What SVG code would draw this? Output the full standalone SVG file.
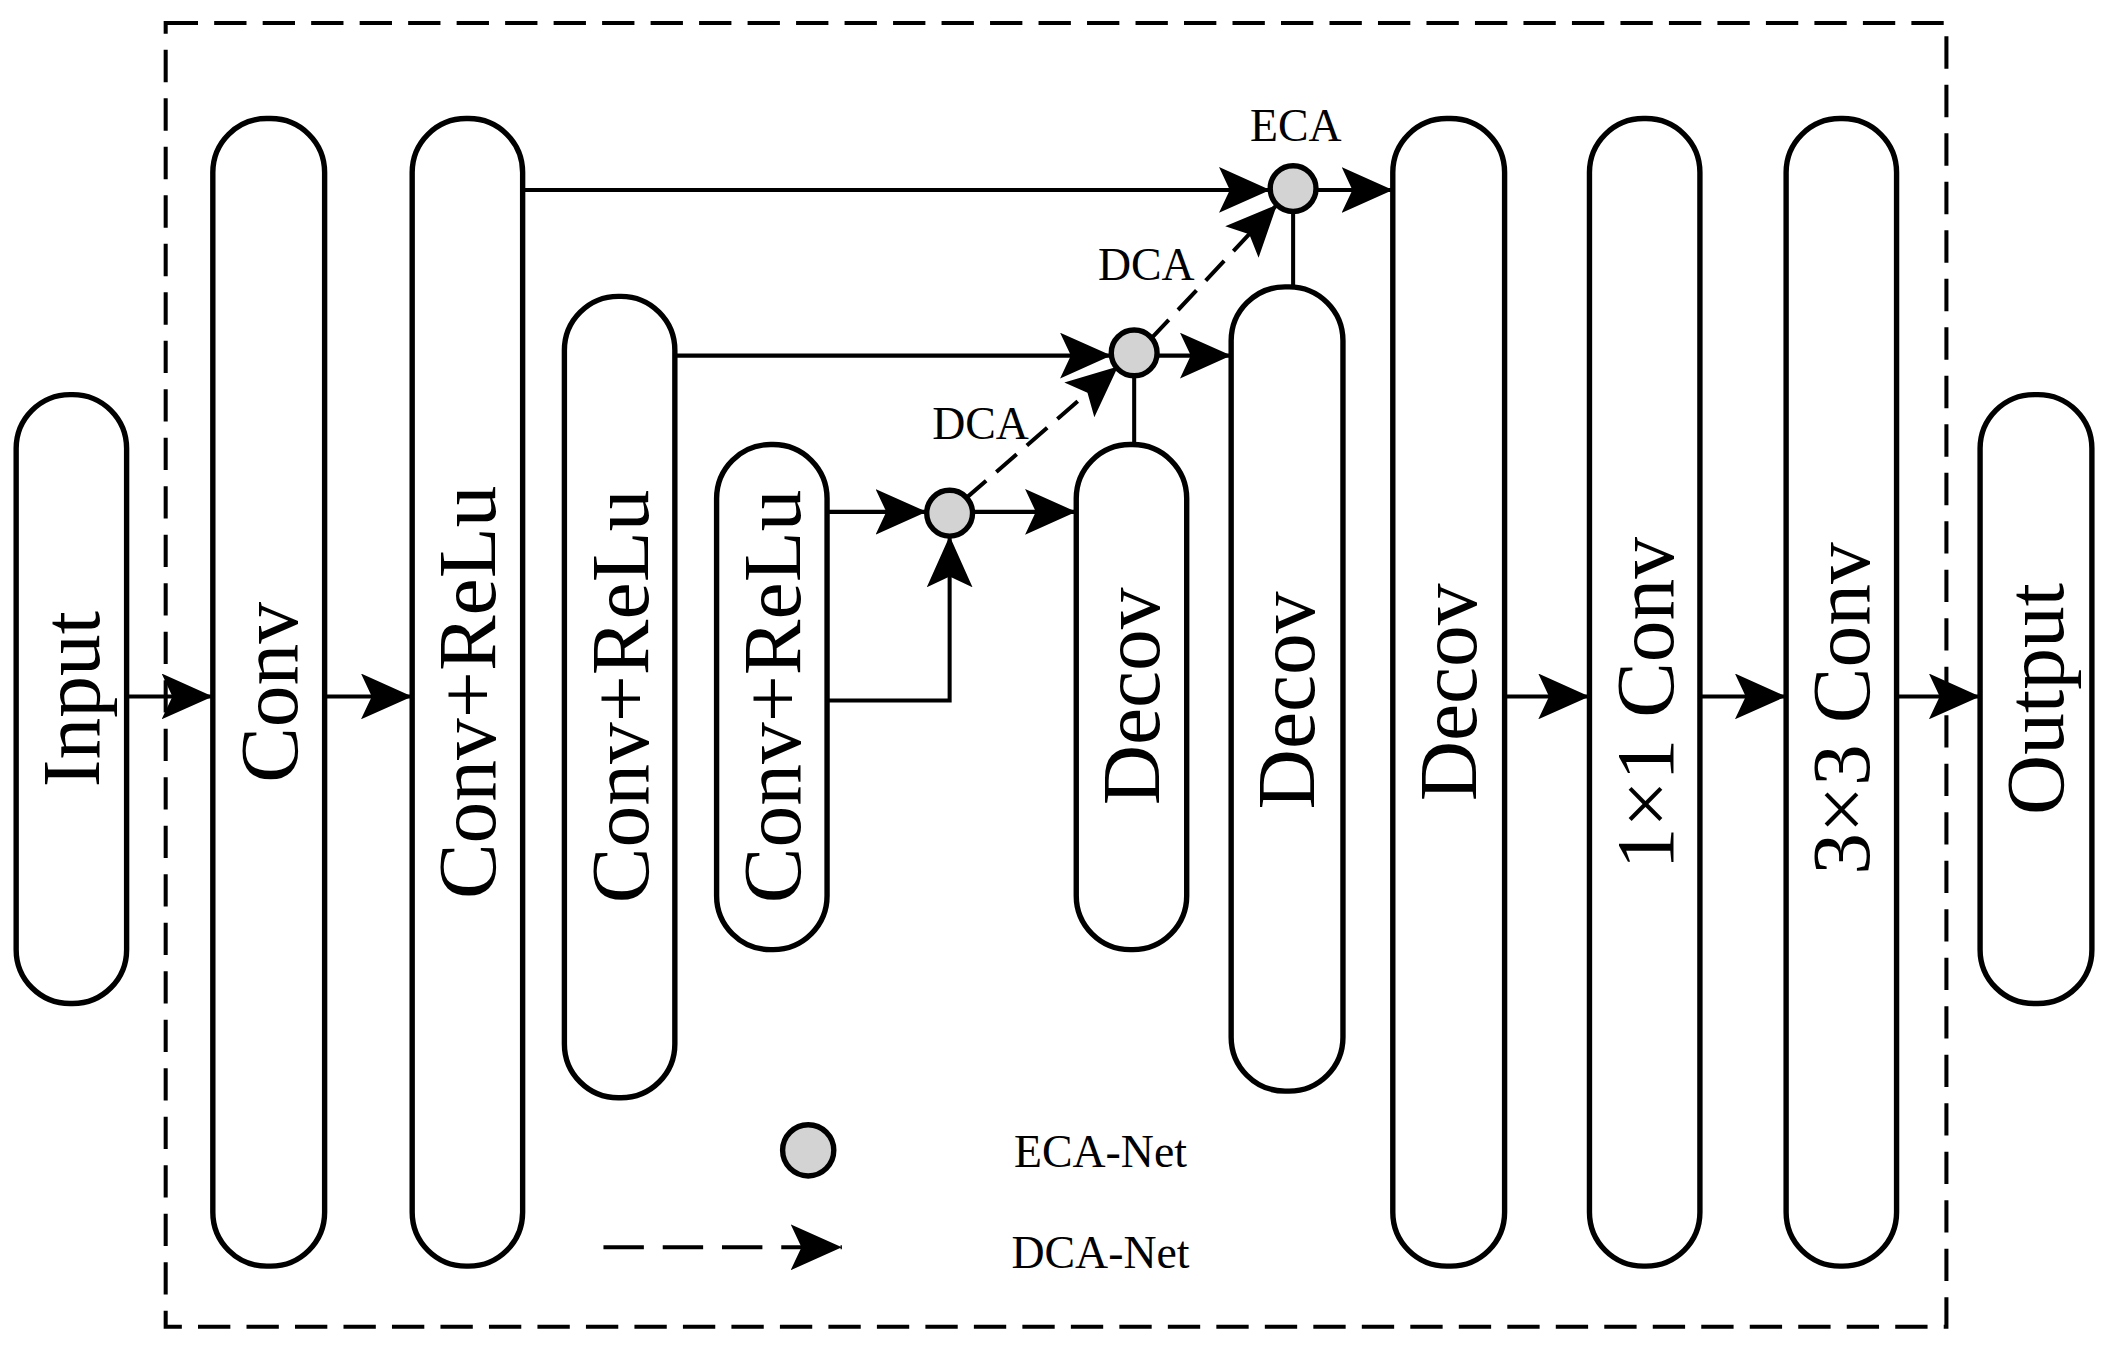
<svg xmlns="http://www.w3.org/2000/svg" width="2112" height="1358" viewBox="0 0 2112 1358">
<style>
.b{fill:#fff;stroke:#000;stroke-width:4}
.t{font-family:"Liberation Serif",serif;font-size:62px;text-anchor:middle;dominant-baseline:central}
.s{font-family:"Liberation Serif",serif;font-size:34px;text-anchor:middle}
.l{fill:none;stroke:#000;stroke-width:3}
.c{fill:#d3d3d3;stroke:#000;stroke-width:4}
</style>
<defs><marker id="a" markerUnits="userSpaceOnUse" markerWidth="40" markerHeight="34" refX="38" refY="17" orient="auto"><path d="M0,0 L38,17 L0,34 L8,17 Z" fill="#000"/></marker></defs>
<rect width="2112" height="1358" fill="#fff"/>
<g transform="scale(1.347)">
<rect x="123" y="17" width="1322" height="968" fill="none" stroke="#000" stroke-width="3" stroke-dasharray="24,12"/>
<g id="input"><rect class="b" x="12" y="293" width="82" height="452" rx="40"/><text class="t" transform="translate(53,519) rotate(-90)">Input</text></g>
<g id="conv"><rect class="b" x="158" y="88" width="83" height="852" rx="40"/><text class="t" transform="translate(200,514) rotate(-90)">Conv</text></g>
<g id="cr1"><rect class="b" x="306" y="88" width="82" height="852" rx="40"/><text class="t" transform="translate(347,514) rotate(-90)">Conv+ReLu</text></g>
<g id="cr2"><rect class="b" x="419" y="220" width="82" height="595" rx="40"/><text class="t" transform="translate(460,517) rotate(-90)">Conv+ReLu</text></g>
<g id="cr3"><rect class="b" x="532" y="330" width="82" height="375" rx="40"/><text class="t" transform="translate(573,517) rotate(-90)">Conv+ReLu</text></g>
<g id="dec1"><rect class="b" x="799" y="330" width="82" height="375" rx="40"/><text class="t" transform="translate(840,517) rotate(-90)">Decov</text></g>
<g id="dec2"><rect class="b" x="914" y="213" width="83" height="597" rx="40"/><text class="t" transform="translate(955,520) rotate(-90)">Decov</text></g>
<g id="dec3"><rect class="b" x="1034" y="88" width="83" height="852" rx="40"/><text class="t" transform="translate(1075,514) rotate(-90)">Decov</text></g>
<g id="c11"><rect class="b" x="1180" y="88" width="82" height="852" rx="40"/><text class="t" transform="translate(1221,522) rotate(-90)">1×1 Conv</text></g>
<g id="c33"><rect class="b" x="1326" y="88" width="82" height="852" rx="40"/><text class="t" transform="translate(1367,526) rotate(-90)">3×3 Conv</text></g>
<g id="output"><rect class="b" x="1470" y="293" width="83" height="452" rx="40"/><text class="t" transform="translate(1511,519) rotate(-90)">Output</text></g>
<g id="connectors">
<path class="l" marker-end="url(#a)" d="M94,517H158"/>
<path class="l" marker-end="url(#a)" d="M241,517H306"/>
<path class="l" marker-end="url(#a)" d="M1117,517H1180"/>
<path class="l" marker-end="url(#a)" d="M1262,517H1326"/>
<path class="l" marker-end="url(#a)" d="M1408,517H1470"/>
<path class="l" marker-end="url(#a)" d="M388,141H943"/>
<path class="l" marker-end="url(#a)" d="M501,264H825"/>
<path class="l" marker-end="url(#a)" d="M614,380H688"/>
<path class="l" marker-end="url(#a)" d="M614,520H705V398"/>
<path class="l" marker-end="url(#a)" d="M722,380H799"/>
<path class="l" marker-end="url(#a)" d="M859,264H914"/>
<path class="l" marker-end="url(#a)" d="M977,141H1034"/>
<path class="l" d="M842,330V279M960,213V157"/>
<path class="l" stroke-width="3.5" stroke-dasharray="20,10" marker-end="url(#a)" d="M717,370L830,272"/>
<path class="l" stroke-width="3.5" stroke-dasharray="20,10" marker-end="url(#a)" d="M854,252L948,152"/>
<path class="l" stroke-width="3.5" stroke-dasharray="30,14" marker-end="url(#a)" d="M448,926H625"/>
</g>
<g id="eca"><circle class="c" cx="960" cy="140" r="17"/><text class="s" x="962" y="105">ECA</text></g>
<g id="dca2"><circle class="c" cx="842" cy="262" r="17"/><text class="s" x="851" y="208">DCA</text></g>
<g id="dca1"><circle class="c" cx="705" cy="381" r="17"/><text class="s" x="728" y="326">DCA</text></g>
<g id="legend"><circle class="c" cx="600" cy="854" r="19"/><text class="s" x="817" y="866">ECA-Net</text><text class="s" x="817" y="941">DCA-Net</text></g>
</g>
</svg>
